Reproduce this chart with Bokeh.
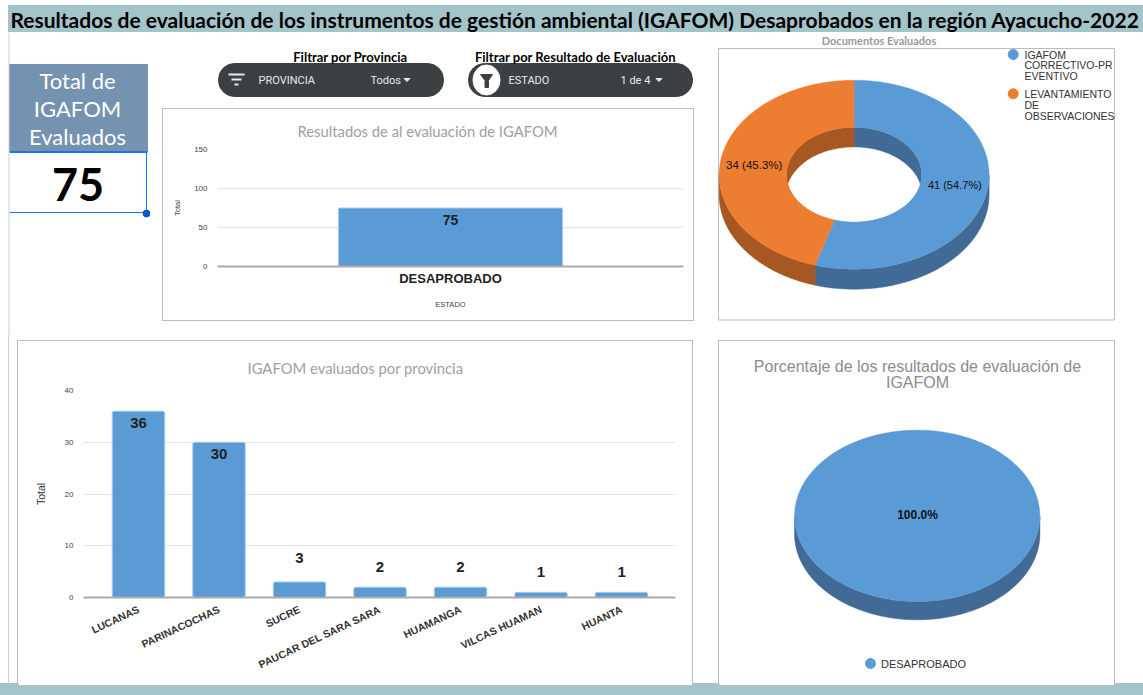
import math
import numpy as np
from bokeh.core.properties import value
from bokeh.embed import file_html
from bokeh.layouts import column, row
from bokeh.models import FactorRange, FixedTicker, Range1d, Title
from bokeh.plotting import figure
from bokeh.resources import INLINE

# ---- data ----
HEADER = "Resultados de evaluación de los instrumentos de gestión ambiental (IGAFOM) Desaprobados en la región Ayacucho-2022"
estado_cats = ["DESAPROBADO"]
estado_vals = [75]
provincias = ["LUCANAS", "PARINACOCHAS", "SUCRE", "PAUCAR DEL SARA SARA", "HUAMANGA", "VILCAS HUAMAN", "HUANTA"]
provincia_vals = [36, 30, 3, 2, 2, 1, 1]
doc_vals = [41, 34]
doc_labels = ["41 (54.7%)", "34 (45.3%)"]
resultado_vals = [75]
resultado_labels = ["100.0%"]
total_igafom = "75"

# ---- styles ----
TEAL = "#A3C4C8"
BLUE = "#5B9BD5"
ORANGE = "#ED7D31"
DBLUE = "#416B96"
DORANGE = "#A65722"
PANEL = "#BDBDBD"
SEL = "#1A73E8"
DARK = "#3C4043"
TITLE_GREY = "#A0A0A0"
CAL = "Lato"
ARIAL = "Liberation Sans"
PANEL_CSS = {"border": f"1px solid {PANEL}", "box-sizing": "border-box"}


def canvas(x0, y0, x1, y1, **kw):
    """Decorative figure whose data coordinates are window pixels."""
    p = figure(width=x1 - x0, height=y1 - y0, x_range=Range1d(x0, x1), y_range=Range1d(y1, y0),
               output_backend="svg", toolbar_location=None, min_border=0, x_axis_type=None,
               y_axis_type=None, outline_line_color=None, border_fill_color="white", **kw)
    p.grid.visible = False
    return p


def txt(p, x, y, s, size, color="#000000", font=CAL, style="normal", align="center"):
    p.text(x=[x], y=[y], text=[s], text_font=value(font), text_font_size=f"{size}px",
           text_font_style=style, text_color=color, text_align=align, text_baseline="middle")


def chart_title(p, s, offset, standoff):
    p.add_layout(Title(text=s, align="left", offset=offset, standoff=standoff, text_font=CAL,
                       text_font_size="14.8px", text_font_style="normal", text_color=TITLE_GREY), "above")


def ring(p, cx, cy, rx, ry, depth, irx, iry, vals, cols, darks):
    total = sum(vals)
    edges = np.cumsum([0] + list(vals)) / total * 2 * math.pi
    for a0, a1, d in zip(edges[:-1], edges[1:], darks):
        lo, hi = max(a0, math.pi / 2), min(a1, 3 * math.pi / 2)
        if hi > lo:
            t = np.linspace(lo, hi, 90)
            xs = cx + rx * np.sin(t)
            ys = cy - ry * np.cos(t)
            p.patch(np.r_[xs, xs[::-1]], np.r_[ys, ys[::-1] + depth], color=d, line_color=d, line_width=0.5)
        if irx:
            t = np.linspace(a0, a1, 200)
            p.patch(np.r_[cx, cx + irx * np.sin(t)], np.r_[cy, cy - iry * np.cos(t)], color=d, line_color=d, line_width=0.5)
    if irx:
        xl = irx * math.sqrt(1 - (depth / 2 / iry) ** 2)
        hx = np.linspace(-xl, xl, 160)
        s = iry * np.sqrt(1 - (hx / irx) ** 2)
        p.patch(np.r_[cx + hx, cx + hx[::-1]], np.r_[cy + depth - s, (cy + s)[::-1]], color="white", line_color="white", line_width=0.5)
    for a0, a1, c in zip(edges[:-1], edges[1:], cols):
        t = np.linspace(a0, a1, 240)
        xs = cx + rx * np.sin(t)
        ys = cy - ry * np.cos(t)
        if irx:
            ix = cx + irx * np.sin(t[::-1])
            iy = cy - iry * np.cos(t[::-1])
            p.patch(np.r_[xs, ix], np.r_[ys, iy], color=c, line_color=c, line_width=0.3)
        else:
            p.patch(xs, ys, color=c, line_color=c, line_width=0.3)


# ---- header ----
head = canvas(0, 0, 1143, 32)
head.quad(left=[8], right=[1143], top=[5], bottom=[32], color=TEAL)
txt(head, 10, 18.5, HEADER, 21, "#000000", style="bold", align="left")

# ---- KPI ----
kpi = canvas(0, 32, 150, 335)
kpi.quad(left=[9], right=[147], top=[64], bottom=[151], color="#7593B1")
for y, s in zip([79.5, 107.5, 135.5], ["Total de", "IGAFOM", "Evaluados"]):
    txt(kpi, 77, y, s, 22, "#FFFFFF")
kpi.line([9, 147], [151.5, 151.5], line_color=SEL, line_width=2)
kpi.line([146, 146], [151, 212], line_color=SEL, line_width=1)
kpi.line([9, 146], [212, 212], line_color=SEL, line_width=1)
kpi.scatter([146], [213], size=7, color="#0B57D0")
kpi.line([8.5, 8.5], [32, 335], line_color="#CFCFCF")
txt(kpi, 77.5, 184, total_igafom, 45, "#000000", style="bold")

# ---- filters ----
flt = canvas(150, 32, 705, 108)
flt.quad(left=[218, 468], right=[443, 692], top=[63, 63], bottom=[96, 96], color=DARK, border_radius=16)
txt(flt, 350, 56.5, "Filtrar por Provincia", 13, style="bold")
txt(flt, 575, 56.5, "Filtrar por Resultado de Evaluación", 13, style="bold")
for x0, x1, y in [(228, 244, 74), (231, 241, 79), (234, 238, 84)]:
    flt.line([x0, x1], [y, y], line_color="#E8EAED", line_width=2)
flt.ellipse([486], [79.5], width=[27], height=[30], color="#FFFFFF")
flt.patch([480, 492, 488, 488, 484.5, 484.5], [74, 74, 80, 87, 87, 80], color=DARK)
txt(flt, 258, 79.5, "PROVINCIA", 11, "#E8EAED", "Roboto", align="left")
txt(flt, 370, 79.5, "Todos", 11, "#E8EAED", "Roboto", align="left")
txt(flt, 508, 79.5, "ESTADO", 11, "#E8EAED", "Roboto", align="left")
txt(flt, 620, 79.5, "1 de 4", 11, "#E8EAED", "Roboto", align="left")
for x in (406.5, 658.5):
    flt.patch([x - 3, x + 3, x], [78, 78, 81], color="#E8EAED")

# ---- state bar chart ----
bar = figure(width=532, height=213, x_range=FactorRange(factors=estado_cats), y_range=Range1d(0, 150),
             output_backend="svg", toolbar_location=None, min_border_left=54, min_border_right=12,
             min_border_top=38, min_border_bottom=56, outline_line_color=None, margin=(0, 0, 0, 12),
             styles=PANEL_CSS, title=None)
chart_title(bar, "Resultados de al evaluación de IGAFOM", 80, 20)
bar.vbar(x=estado_cats, top=estado_vals, width=0.481, color=BLUE, line_color="#A9CBEC", border_radius=1)
bar.text(x=estado_cats, y=estado_vals, text=[str(v) for v in estado_vals], y_offset=[12],
         text_font=value(ARIAL), text_font_size="14px", text_font_style="bold", text_color="#222222",
         text_align="center", text_baseline="middle")
bar.xgrid.visible = False
bar.ygrid.grid_line_color = "#E8E8E8"
bar.ygrid.grid_line_width = 1.5
bar.yaxis.ticker = FixedTicker(ticks=[0, 50, 100, 150])
bar.yaxis.axis_line_color = None
bar.yaxis.major_tick_line_color = None
bar.yaxis.minor_tick_line_color = None
bar.yaxis.major_label_text_font = ARIAL
bar.yaxis.major_label_text_font_size = "8px"
bar.yaxis.major_label_text_color = "#444444"
bar.yaxis.major_label_standoff = 4
bar.yaxis.axis_label = "Total"
bar.yaxis.axis_label_text_font = ARIAL
bar.yaxis.axis_label_text_font_size = "7.5px"
bar.yaxis.axis_label_text_font_style = "normal"
bar.yaxis.axis_label_text_color = "#444444"
bar.yaxis.axis_label_standoff = 9
bar.xaxis.axis_line_color = "#AAAAAA"
bar.xaxis.axis_line_width = 2
bar.xaxis.major_tick_line_color = None
bar.xaxis.major_label_text_font = ARIAL
bar.xaxis.major_label_text_font_size = "13px"
bar.xaxis.major_label_text_font_style = "bold"
bar.xaxis.major_label_text_color = "#222222"
bar.xaxis.major_label_standoff = -2
bar.xaxis.axis_label = "ESTADO"
bar.xaxis.axis_label_text_font = ARIAL
bar.xaxis.axis_label_text_font_size = "7.5px"
bar.xaxis.axis_label_text_font_style = "normal"
bar.xaxis.axis_label_text_color = "#444444"
bar.xaxis.axis_label_standoff = 11

# ---- documents donut ----
don = canvas(705, 32, 1143, 335)
don.quad(left=[718], right=[1114], top=[48], bottom=[319.5], fill_color="white", line_color=PANEL)
txt(don, 878.5, 40, "Documentos Evaluados", 11, "#9A9A9A", style="bold")
ring(don, 853.6, 174.2, 135, 94.5, 20, 67.5, 47.3, doc_vals, [BLUE, ORANGE], [DBLUE, DORANGE])
txt(don, 954.3, 184, doc_labels[0], 11, "#111111", ARIAL)
txt(don, 753.7, 164, doc_labels[1], 11.5, "#111111", ARIAL)
don.scatter([1012.7, 1012.7], [54, 93.3], size=10, color=[BLUE, ORANGE])
for y, s in zip([54, 64.5, 75, 93.3, 104, 115],
                ["IGAFOM", "CORRECTIVO-PR", "EVENTIVO", "LEVANTAMIENTO", "DE", "OBSERVACIONES"]):
    txt(don, 1024, y, s, 10.5, "#333333", ARIAL, align="left")

# ---- province bars ----
idx = list(range(len(provincias)))
prov = figure(width=676, height=346, x_range=Range1d(-0.683, 6.67), y_range=Range1d(0, 40),
              output_backend="svg", toolbar_location=None, min_border_left=65, min_border_right=19,
              min_border_top=49, min_border_bottom=90, outline_line_color=None, margin=(5, 25, 9, 17),
              styles=PANEL_CSS, title=None)
chart_title(prov, "IGAFOM evaluados por provincia", 164, 28)
prov.vbar(x=idx, top=provincia_vals, width=0.652, color=BLUE, line_color="#A9CBEC", border_radius=2)
prov.text(x=idx, y=provincia_vals, text=[str(v) for v in provincia_vals],
          y_offset=[12, 12, -24, -20, -20, -20, -20], text_font=value(ARIAL), text_font_size="15px",
          text_font_style="bold", text_color="#222222", text_align="center", text_baseline="middle")
prov.xgrid.visible = False
prov.ygrid.grid_line_color = "#E4E4E4"
prov.ygrid.grid_line_width = 1
prov.yaxis.ticker = FixedTicker(ticks=[0, 10, 20, 30, 40])
prov.yaxis.axis_line_color = None
prov.yaxis.major_tick_line_color = None
prov.yaxis.minor_tick_line_color = None
prov.yaxis.major_label_text_font = ARIAL
prov.yaxis.major_label_text_font_size = "8px"
prov.yaxis.major_label_text_color = "#444444"
prov.yaxis.major_label_standoff = 4
prov.yaxis.axis_label = "Total"
prov.yaxis.axis_label_text_font = ARIAL
prov.yaxis.axis_label_text_font_size = "10.5px"
prov.yaxis.axis_label_text_font_style = "normal"
prov.yaxis.axis_label_text_color = "#333333"
prov.yaxis.axis_label_standoff = 15
prov.xaxis.ticker = FixedTicker(ticks=idx)
prov.xaxis.major_label_overrides = dict(zip(idx, provincias))
prov.xaxis.major_label_orientation = math.radians(25)
prov.xaxis.major_label_text_font = ARIAL
prov.xaxis.major_label_text_font_size = "10.5px"
prov.xaxis.major_label_text_font_style = "bold"
prov.xaxis.major_label_text_color = "#333333"
prov.xaxis.major_label_standoff = 5
prov.xaxis.axis_line_color = "#AAAAAA"
prov.xaxis.axis_line_width = 2
prov.xaxis.major_tick_line_color = None
prov.xaxis.minor_tick_line_color = None

# ---- result pie ----
pie = canvas(718, 340, 1115, 686, margin=(5, 28, 9, 0), styles=PANEL_CSS)
txt(pie, 916, 365, "Porcentaje de los resultados de evaluación de", 16, "#8C8C8C", ARIAL)
txt(pie, 916, 380.5, "IGAFOM", 16, "#8C8C8C", ARIAL)
ring(pie, 915.7, 514.3, 122.7, 85.7, 18.3, 0, 0, resultado_vals, [BLUE], [DBLUE])
txt(pie, 916, 513.5, resultado_labels[0], 12, "#111111", ARIAL, style="bold")
pie.scatter([869], [662], size=10, color=BLUE)
txt(pie, 879.5, 662, estado_cats[0], 11, "#333333", ARIAL, align="left")

band = row(column(prov), column(pie), width=1143, height=360, spacing=0,
           styles={"background": f"linear-gradient(to top, {TEAL} 12px, transparent 12px), "
                                 "linear-gradient(#CFCFCF, #CFCFCF) 8px 0 / 1px 100% no-repeat"})
page = column(head,
              row(kpi, column(column(flt), column(bar), spacing=0), don, spacing=0),
              band,
              spacing=0)
open("out.html", "w").write(file_html(page, INLINE))
